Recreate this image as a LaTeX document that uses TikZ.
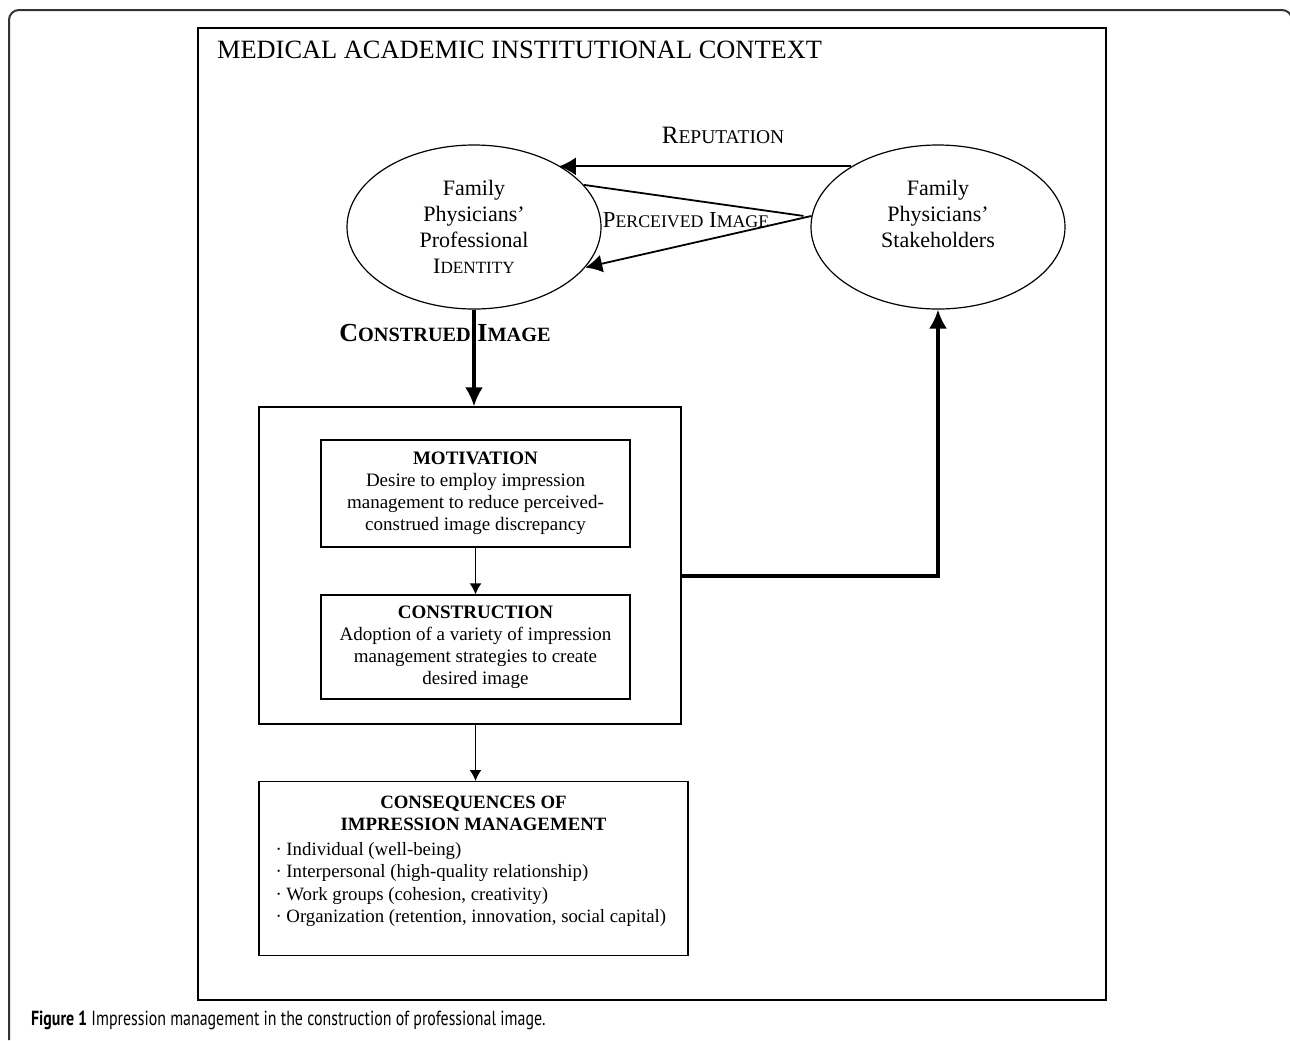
\documentclass[tikz,border=0pt]{standalone}
\usepackage{fontspec}
\setmainfont{Liberation Serif}
\newfontfamily\capfont[FakeStretch=0.78]{PT Sans}
\usepackage{graphicx}
\usetikzlibrary{arrows.meta,calc,shapes.geometric,positioning}
\tikzset{>={Latex[length=9.5pt,width=9pt]}}
\tikzstyle{actor}=[ellipse,draw,line width=0.6pt,minimum width=127pt,minimum height=82pt,inner sep=0pt,align=center,font=\fontsize{11}{13}\selectfont]
\tikzstyle{stage}=[rectangle,draw,line width=0.6pt,minimum width=154.5pt,inner sep=0pt,align=center,font=\fontsize{9.5}{11}\selectfont]
\tikzstyle{ctxbox}=[rectangle,draw,line width=0.7pt,inner sep=0pt]
\tikzstyle{bigarrow}=[line width=1.6pt,->]
\tikzstyle{midarrow}=[line width=0.9pt,-{Latex[length=8.5pt,width=9pt]}]
\tikzstyle{smallarrow}=[line width=0.8pt,-{Latex[length=5.5pt,width=6pt]}]
\newcommand{\smcap}[1]{\scalebox{0.78}{#1}}
\newcommand{\consitem}[1]{\makebox[198pt][l]{· #1}}

\begin{document}
\begin{tikzpicture}[x=0.5pt,y=-0.5pt]
	\useasboundingbox (0,0) rectangle (1290,1040);
	
	% page frame and context box
	\draw[line width=1pt,black!80,rounded corners=5pt] (9,1040) -- (9,10) -- (1292,10) -- (1292,1040);
	\node[ctxbox,minimum width=454pt,minimum height=486pt] (ctx) at (652,514) {};
	\node[anchor=base west,font=\fontsize{13.2}{15}\selectfont] (ctxtitle) at (210,58) {MEDICAL ACADEMIC INSTITUTIONAL CONTEXT};
	
	\node[actor] (identity) at (474,227) {Family\\Physicians’\\Professional\\I\smcap{DENTITY}};
	\node[actor] (stake) at (938,227) {Family\\Physicians’\\Stakeholders\rule[-13pt]{0pt}{0pt}};
	
	\draw[midarrow] (stake.145) -- (stake.145 -| identity.36);
	\node[anchor=base,font=\fontsize{12.5}{14}\selectfont] (reptext) at (723,143) {R\smcap{EPUTATION}};
	
	\coordinate (pjoin) at ([xshift=-4pt]stake.175);
	\draw[line width=0.9pt] (identity.21) -- (pjoin);
	\draw[midarrow] (stake.175) -- (identity.-20);
	\node[anchor=base,font=\fontsize{11.4}{13}\selectfont] (perctext) at (686,227) {P\smcap{ERCEIVED} I\smcap{MAGE}};
	
	% impression management process
	\node[ctxbox,minimum width=211pt,minimum height=158.5pt] (proc) at (470,565.5) {};
	\node[stage,minimum height=53.5pt] (motiv) at (475.5,493.5) {\textbf{MOTIVATION}\\Desire to employ impression\\management to reduce perceived-\\construed image discrepancy};
	\node[stage,minimum height=52pt] (constr) at (475.5,647) {\textbf{CONSTRUCTION}\\Adoption of a variety of impression\\management strategies to create\\desired image};
	
	\draw[bigarrow] (identity.south) -- (identity.south |- proc.north);
	\node[anchor=base,font=\fontsize{13}{15}\selectfont\bfseries] (construed) at (445,341) {C\smcap{ONSTRUED} I\smcap{MAGE}};
	
	\draw[smallarrow] (motiv) -- (constr);
	\draw[bigarrow] ([yshift=-5.25pt]proc.east) -| (stake.south);
	
	\node[stage,anchor=north,minimum width=214.5pt,inner ysep=7pt,font=\fontsize{9.4}{11.25}\selectfont] (conseq) at (473.5,781) {\textbf{CONSEQUENCES OF}\\\textbf{IMPRESSION MANAGEMENT}\\[1pt]
		\consitem{Individual (well-being)}\\
		\consitem{Interpersonal (high-quality relationship)}\\
		\consitem{Work groups (cohesion, creativity)}\\
		\consitem{Organization (retention, innovation, social capital)}\rule[-9.5pt]{0pt}{0pt}};
	\draw[smallarrow] (motiv.south |- proc.south) -- (motiv.south |- conseq.north);
	
	\node[anchor=base west,font=\capfont\fontsize{10.2}{12}\selectfont] (caption) at (24,1025) {\textbf{Figure 1} Impression management in the construction of professional image.};
\end{tikzpicture}
\end{document}
